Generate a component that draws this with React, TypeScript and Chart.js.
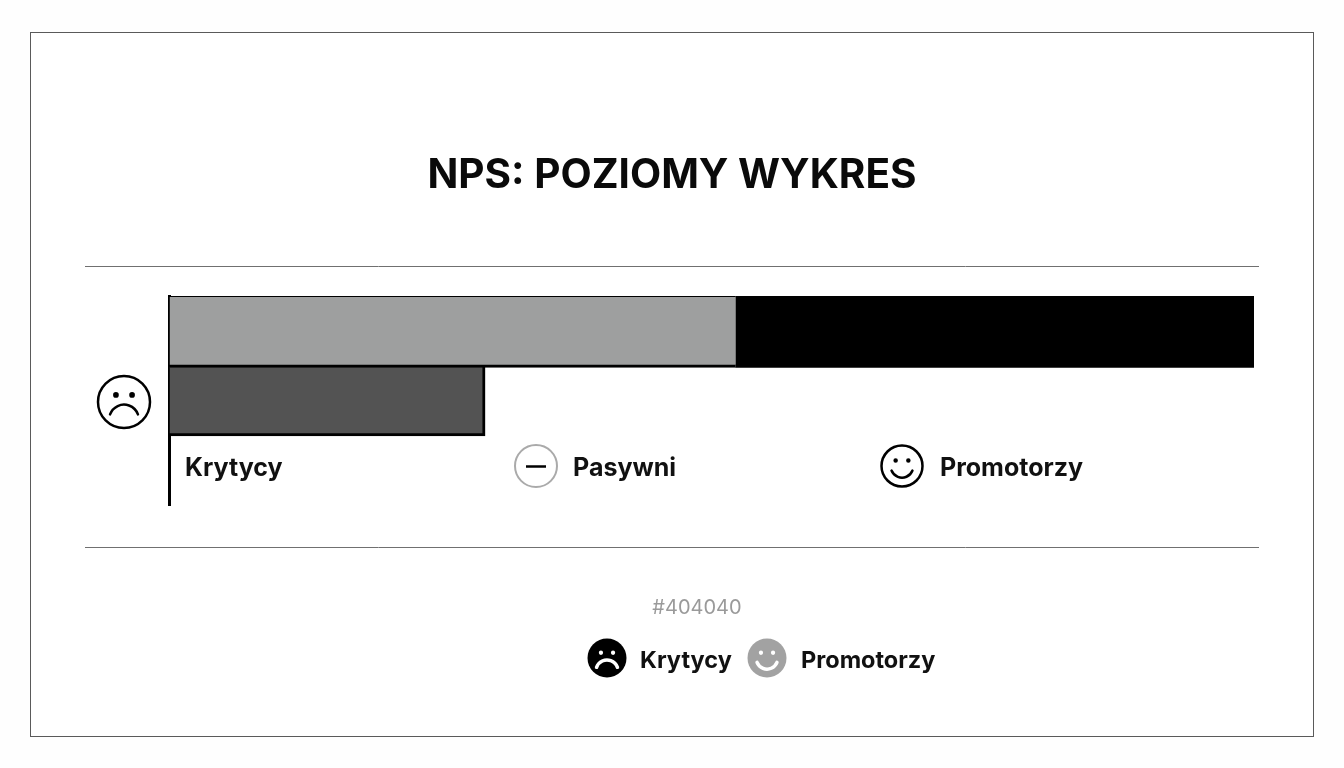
import React, { useEffect, useRef } from "react";
import { Chart, registerables, Plugin } from "chart.js";

Chart.register(...registerables);

const rowNames = ["Pasywni / Promotorzy", "Krytycy", ""];
const passiveValues = [52.2, null, null];
const promoterValues = [47.8, null, null];
const criticValues = [null, 29.1, null];
const chartTitle = "NPS: POZIOMY WYKRES";
const rowLabels = ["Krytycy", "Pasywni", "Promotorzy"];
const legendNote = "#404040";
const legendLabels = ["Krytycy", "Promotorzy"];

const FONT = "Inter, sans-serif";

// mood: -1 sad, 1 happy
function drawFace(
  ctx: CanvasRenderingContext2D,
  cx: number,
  cy: number,
  r: number,
  mood: number,
  fill: string | null,
  stroke: string,
  detail: string
) {
  ctx.beginPath();
  ctx.arc(cx, cy, r, 0, Math.PI * 2);
  if (fill) {
    ctx.fillStyle = fill;
    ctx.fill();
  } else {
    ctx.strokeStyle = stroke;
    ctx.lineWidth = 2.5;
    ctx.stroke();
  }
  ctx.fillStyle = detail;
  ctx.strokeStyle = detail;
  const eye = r * 0.31;
  ctx.beginPath();
  ctx.arc(cx - eye, cy - r * 0.27, r * 0.11, 0, Math.PI * 2);
  ctx.arc(cx + eye, cy - r * 0.27, r * 0.11, 0, Math.PI * 2);
  ctx.fill();
  ctx.lineWidth = fill ? 3.5 : 2.5;
  ctx.lineCap = "round";
  ctx.beginPath();
  if (mood > 0) {
    ctx.arc(cx, cy + r * 0.02, r * 0.55, Math.PI * 0.12, Math.PI * 0.88);
  } else {
    ctx.arc(cx, cy + r * 0.67, r * 0.57, Math.PI * 1.11, Math.PI * 1.89);
  }
  ctx.stroke();
  ctx.lineCap = "butt";
}

function text(
  ctx: CanvasRenderingContext2D,
  s: string,
  x: number,
  y: number,
  font: string,
  color: string,
  align: CanvasTextAlign = "left"
) {
  ctx.font = font;
  ctx.fillStyle = color;
  ctx.textAlign = align;
  ctx.textBaseline = "alphabetic";
  ctx.fillText(s, x, y);
}

// frame, rules, title and the faces around the plot
const decorations: Plugin<"bar"> = {
  id: "decorations",
  beforeDraw(chart) {
    const ctx = chart.ctx;
    ctx.save();
    ctx.fillStyle = "#fefefe";
    ctx.fillRect(0, 0, 1344, 768);
    ctx.fillStyle = "#ffffff";
    ctx.fillRect(30, 32, 1284, 705);
    ctx.strokeStyle = "#5a5a5a";
    ctx.lineWidth = 1;
    ctx.strokeRect(30.5, 32.5, 1283, 704);

    ctx.strokeStyle = "#707070";
    [266.5, 547.5].forEach((y) => {
      ctx.beginPath();
      ctx.moveTo(85, y);
      ctx.lineTo(1259, y);
      ctx.stroke();
    });
    ctx.restore();
  },
  afterDraw(chart) {
    const ctx = chart.ctx;
    ctx.save();
    text(ctx, chartTitle, 672, 187.5, `700 40.5px ${FONT}`, "#0a0a0a", "center");

    const labelFont = `700 25px ${FONT}`;
    text(ctx, rowLabels[0], 185, 476, labelFont, "#111");
    text(ctx, rowLabels[1], 573, 476, labelFont, "#111");
    text(ctx, rowLabels[2], 940, 476, labelFont, "#111");

    drawFace(ctx, 124, 402, 26, -1, null, "#000", "#000");

    ctx.strokeStyle = "#aaaaaa";
    ctx.lineWidth = 2;
    ctx.beginPath();
    ctx.arc(536, 466, 21, 0, Math.PI * 2);
    ctx.stroke();
    ctx.strokeStyle = "#000";
    ctx.lineWidth = 2.5;
    ctx.beginPath();
    ctx.moveTo(526, 466.5);
    ctx.lineTo(546, 466.5);
    ctx.stroke();

    drawFace(ctx, 902, 466, 20.5, 1, null, "#000", "#000");

    const legendFont = `700 23.5px ${FONT}`;
    text(ctx, legendNote, 697, 614, `400 20px ${FONT}`, "#9a9a9a", "center");
    drawFace(ctx, 607, 658, 19.5, -1, "#000", "#000", "#fff");
    text(ctx, legendLabels[0], 640, 668, legendFont, "#111");
    drawFace(ctx, 767, 658, 19.5, 1, "#a2a2a2", "#a2a2a2", "#fff");
    text(ctx, legendLabels[1], 801, 668, legendFont, "#111");
    ctx.restore();
  },
};

export default function App() {
  const canvasRef = useRef<HTMLCanvasElement | null>(null);

  useEffect(() => {
    const canvas = canvasRef.current;
    if (!canvas) return;

    const chart = new Chart(canvas, {
      type: "bar",
      data: {
        labels: rowNames,
        datasets: [
          {
            label: "Pasywni",
            data: passiveValues,
            backgroundColor: "#9e9f9f",
            borderColor: "#000",
            borderWidth: { top: 3, left: 3, right: 0, bottom: 3 },
            barThickness: 73,
          },
          {
            label: "Promotorzy",
            data: promoterValues,
            backgroundColor: "#000",
            borderWidth: 0,
            barThickness: 73,
          },
          {
            label: "Krytycy",
            data: criticValues,
            backgroundColor: "#535353",
            borderColor: "#000",
            borderWidth: { top: 2, left: 3, right: 3, bottom: 3 },
            barThickness: 71,
          },
        ],
      } as any,
      options: {
        indexAxis: "y",
        responsive: false,
        animation: false,
        layout: { padding: { left: 169.5, right: 90, top: 296, bottom: 263 } },
        plugins: {
          legend: { display: false },
          tooltip: { enabled: false },
        },
        scales: {
          x: { display: false, stacked: true, min: 0, max: 100 },
          y: {
            stacked: true,
            grid: { display: false, drawTicks: false },
            ticks: { display: false },
            border: { display: true, color: "#000", width: 3 },
          },
        },
      },
      plugins: [decorations],
    });

    return () => chart.destroy();
  }, []);

  return (
    <div style={{ position: "absolute", left: 0, top: 0, width: 1344, height: 768 }}>
      <canvas ref={canvasRef} width={1344} height={768} style={{ display: "block" }} />
    </div>
  );
}
